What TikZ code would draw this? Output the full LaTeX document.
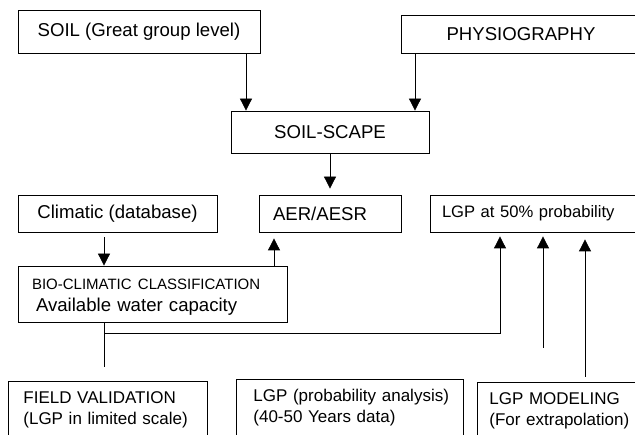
\documentclass[tikz,border=0pt]{standalone}
\usepackage{fontspec}
\setmainfont{Liberation Sans}
\usetikzlibrary{arrows.meta}

\begin{document}
\begin{tikzpicture}[x=1pt, y=-1pt,
	box/.style={draw, line width=0.8pt, inner sep=0pt, font=\fontsize{18.6}{22}\selectfont},
	lbox/.style={box, align=left, inner xsep=#1},
	openbox/.style={draw, line width=0.8pt, anchor=north west, align=left, inner ysep=0pt, text height=22pt, text depth=80pt, font=\fontsize{17}{21}\selectfont},
	arr/.style={-{Triangle[width=12pt,length=12pt]}, line width=0.8pt}]
	\useasboundingbox (0,0) rectangle (635,435);
	\clip (0,0) rectangle (635,435);
	\node[box, minimum width=242pt, minimum height=43pt] (soil) at (139,31.5) {SOIL (Great group level)};
	\node[box, minimum width=240pt, minimum height=38pt] (physio) at (521,34) {PHYSIOGRAPHY};
	\node[box, minimum width=198pt, minimum height=42pt] (scape) at (330,132) {SOIL-SCAPE};
	\node[box, minimum width=199pt, minimum height=37pt] (clim) at (117.5,213.5) {Climatic (database)};
	\node[lbox=14pt, text width=114pt, minimum height=37pt] (aer) at (330,213.5) {AER/AESR};
	\node[lbox=12pt, text width=191pt, minimum height=37pt, font=\fontsize{16.6}{20}\selectfont] (lgp) at (537.5,213.5) {LGP at 50\% probability};
	\node[lbox=14pt, text width=241pt, minimum height=56pt, text height=18pt, text depth=26pt] (bio) at (152.5,294) {\fontsize{15}{18}\selectfont BIO-CLIMATIC CLASSIFICATION\\ \fontsize{18.6}{22}\selectfont\hspace*{4pt}Available water capacity};
	\node[openbox, inner xsep=15pt, text width=169pt] (field) at (8,381) {FIELD VALIDATION\\(LGP in limited scale)};
	\node[openbox, inner xsep=17pt, text width=193pt] (prob) at (236,379) {\mbox{LGP (probability analysis)}\\(40-50 Years data)};
	\node[openbox, inner xsep=12pt, text width=150pt] (model) at (477,382) {LGP MODELING\\(For extrapolation)};
	\coordinate (fieldend) at (104,367);
	\coordinate (probend) at (543,348);
	\coordinate (modelend) at (585,377);
	\draw[arr] ([xshift=107pt]soil.south) -- ([xshift=107pt]soil.south |- scape.north);
	\draw[arr] ([xshift=-106pt]physio.south) -- ([xshift=-106pt]physio.south |- scape.north);
	\draw[arr, shorten >=6pt] (scape.south) -- (aer.north);
	\draw[arr, shorten <=5pt] ([xshift=-13.5pt]clim.south) -- ([xshift=-13.5pt]clim.south |- bio.north);
	\draw[arr, shorten >=6pt] ([xshift=121.5pt]bio.north) -- ([xshift=121.5pt]bio.north |- aer.south);
	\draw[arr, shorten >=4pt] (bio.south -| fieldend) -- ++(0,11) -| ([xshift=-37.5pt]lgp.south);
	\draw (bio.south -| fieldend) -- (fieldend);
	\draw[arr, shorten >=4pt] (probend) -- (probend |- lgp.south);
	\draw[arr, shorten >=7pt] (modelend) -- (modelend |- lgp.south);
\end{tikzpicture}
\end{document}
